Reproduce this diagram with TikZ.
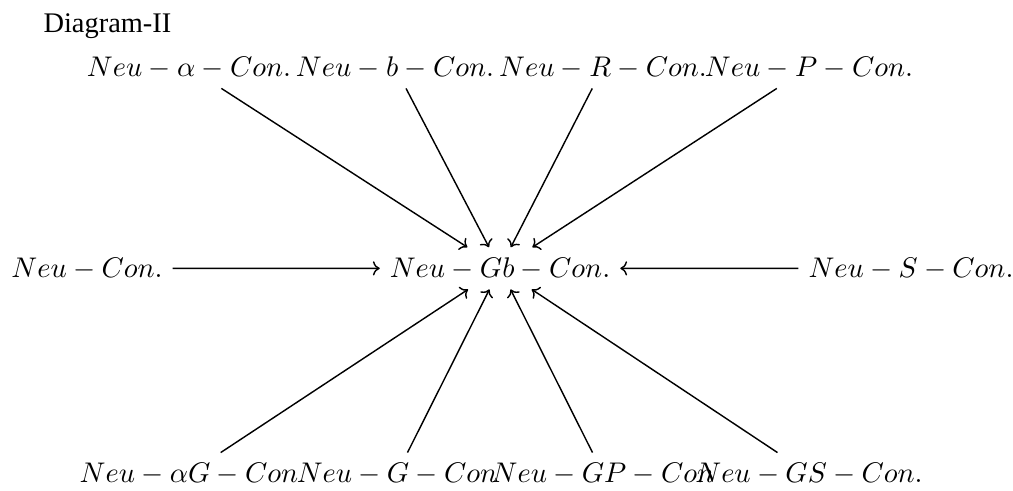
\documentclass[tikz,border=0pt]{standalone}
\usepackage{fontspec}
\newfontfamily\mytitlefont{Liberation Serif}
\usetikzlibrary{arrows.meta}
\begin{document}
\begin{tikzpicture}[x=0.352pt,y=-0.352pt,
  obj/.style={anchor=base,inner sep=3.33pt},
  arr/.style={-{Computer Modern Rightarrow[length=2.4pt,width=5pt]},line width=0.5pt}]
\useasboundingbox (0,0) rectangle (1013,490);
\node[anchor=base west,inner sep=0pt,font=\mytitlefont] (title) at (43,32) {Diagram-II};
% top row
\node[obj] (a)  at (189,76) {$Neu-\alpha-Con.$};
\node[obj] (b)  at (395,76) {$Neu-b-Con.$};
\node[obj] (r)  at (603,76) {$Neu-R-Con.$};
\node[obj] (p)  at (809,76) {$Neu-P-Con.$};
% middle row
\node[obj] (n)  at (87,277) {$Neu-Con.$};
\node[obj] (gb) at (500,277) {$Neu-Gb-Con.$};
\node[obj] (s)  at (911,277) {$Neu-S-Con.$};
% bottom row
\node[obj] (ag) at (189,482) {$Neu-\alpha G-Con$};
\node[obj] (g)  at (397,482) {$Neu-G-Con$};
\node[obj] (gp) at (603,482) {$Neu-GP-Con$};
\node[obj] (gs) at (809,482) {$Neu-GS-Con.$};
% arrows
\foreach \src in {a,b,r,p,n,s,ag,g,gp,gs}
  \draw[arr] (\src) -- (gb);
\end{tikzpicture}
\end{document}
